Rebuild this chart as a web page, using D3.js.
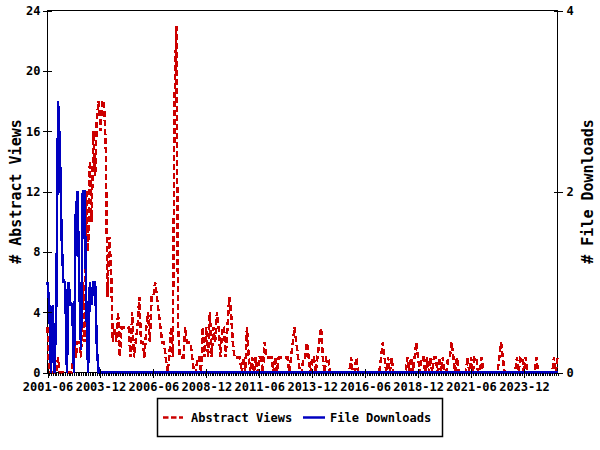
<!DOCTYPE html>
<html><head><meta charset="utf-8">
<script src="https://cdn.jsdelivr.net/npm/d3@7"></script>
<style>body{margin:0;background:#fff} svg{display:block}</style>
</head><body><svg id="c" width="600" height="450"></svg>
<script>
const startMonth = "2001-06";
const abstractViews = [
3,0,0,0,0,0,1,0,0,0, 0,0,0,0,0,2,1,2,2,1,
6,2,12,8,14,10,16,13,17,18, 16,18,18,15,5,9,7,2,3,2,
4,1,3,3,3,3,3,1,4,1, 2,3,5,2,2,1,3,4,2,5,
5,6,5,4,3,2,2,1,0,1, 3,1,18,23,3,1,1,1,3,2,
2,2,1,0,0,1,1,0,3,1, 3,1,4,1,3,2,4,3,1,3,
3,1,3,5,4,2,1,1,1,1, 0,1,0,3,1,0,1,0,1,0,
1,1,0,2,1,1,1,1,0,1, 0,1,1,1,1,1,1,0,1,2,
3,2,1,0,0,1,1,2,1,0, 1,1,0,1,2,3,1,0,1,1,
0,0,0,0,0,0,0,0,0,0, 0,0,1,0,0,1,0,0,0,0,
0,0,0,0,0,0,0,0,0,1, 2,1,0,1,0,1,0,0,0,0,
0,0,0,0,1,0,1,0,1,2, 1,0,1,1,0,1,0,1,0,1,
1,0,1,0,1,0,0,1,1,2, 1,0,1,0,0,0,0,0,1,0,
1,0,1,1,0,0,1,0,0,0, 0,0,0,0,0,0,1,2,1,0,
0,0,0,0,0,0,1,0,1,1, 0,1,0,0,0,0,0,1,0,0,
0,0,0,0,0,0,0,1,0,1
];
const fileDownloads = [
1,0.75,0,0.75,0,0.75,3,2.5,1.5,1, 1,0,1,0.75,0.75,0,1.75,2,1,0.25,
2,2,0.75,0,1,0.75,1,1,0.25,0
].concat(new Array(260).fill(0));
const xTickLabels = ["2001-06","2003-12","2006-06","2008-12","2011-06","2013-12","2016-06","2018-12","2021-06","2023-12"];
const leftTicks = [0,4,8,12,16,20,24];
const rightTicks = [0,2,4];
const seriesNames = ["Abstract Views","File Downloads"];
const colors = ["#cc0000","#0000c0"];

const svg = d3.select("#c");
const font = "'DejaVu Sans Mono', 'Liberation Mono', monospace";
const L = 47.5, R = 557.5, T = 10.5, B = 372.5;

const monthIndex = s => { const [y,m] = s.split("-").map(Number); const [y0,m0] = startMonth.split("-").map(Number); return (y-y0)*12 + (m-m0); };
const n = abstractViews.length;
const x = d3.scaleLinear().domain([0, n-1]).range([L, R]);
const yL = d3.scaleLinear().domain([0, 24]).range([B, T]);
const yR = d3.scaleLinear().domain([0, 4]).range([B, T]);

// frame
svg.append("rect").attr("x", L).attr("y", T).attr("width", R-L).attr("height", B-T)
  .attr("fill","none").attr("stroke","#000").attr("stroke-width",1).attr("shape-rendering","crispEdges");

// lines
const lineL = d3.line().x((d,i)=>x(i)).y(d=>yL(d));
const lineR = d3.line().x((d,i)=>x(i)).y(d=>yR(d));
svg.append("path").datum(abstractViews).attr("d", lineL).attr("fill","none")
  .attr("stroke", colors[0]).attr("stroke-width",2.5).attr("stroke-dasharray","6,3")
  .attr("shape-rendering","crispEdges");
svg.append("path").datum(fileDownloads).attr("d", lineR).attr("fill","none")
  .attr("stroke", colors[1]).attr("stroke-width",2.5).attr("shape-rendering","crispEdges");

// bottom axis minor ticks
const gMinor = svg.append("g").attr("transform",`translate(0,${B})`)
  .call(d3.axisBottom(x).tickValues(d3.range(0,n)).tickSize(3).tickFormat(""));
gMinor.select(".domain").remove();
gMinor.selectAll("line").attr("stroke","#000").attr("shape-rendering","crispEdges");

// bottom major ticks + labels
const gX = svg.append("g").attr("transform",`translate(0,${B})`)
  .call(d3.axisBottom(x).tickValues(xTickLabels.map(monthIndex)).tickSize(5).tickPadding(5)
    .tickFormat((d,i)=>xTickLabels[i]));
gX.select(".domain").remove();
gX.selectAll("line").attr("stroke","#000").attr("y1",-4).attr("shape-rendering","crispEdges");
gX.selectAll("text").attr("font-family",font).attr("font-size",12).attr("font-weight","bold").attr("fill","#000");

// left axis
const gL = svg.append("g").attr("transform",`translate(${L},0)`)
  .call(d3.axisLeft(yL).tickValues(leftTicks).tickSize(5).tickPadding(2).tickFormat(d3.format("d")));
gL.select(".domain").remove();
gL.selectAll("line").attr("stroke","#000").attr("x2",-5).attr("x1",4).attr("shape-rendering","crispEdges");
gL.selectAll("text").attr("font-family",font).attr("font-size",12).attr("font-weight","bold").attr("fill","#000");

// right axis
const gR = svg.append("g").attr("transform",`translate(${R},0)`)
  .call(d3.axisRight(yR).tickValues(rightTicks).tickSize(5).tickPadding(4).tickFormat(d3.format("d")));
gR.select(".domain").remove();
gR.selectAll("line").attr("stroke","#000").attr("x1",-4).attr("shape-rendering","crispEdges");
gR.selectAll("text").attr("font-family",font).attr("font-size",12).attr("font-weight","bold").attr("fill","#000");

// axis titles
svg.append("text").attr("transform",`translate(21,${(T+B)/2}) rotate(-90)`).attr("text-anchor","middle")
  .attr("font-family",font).attr("font-size",15).attr("font-weight","bold").text("# Abstract Views");
svg.append("text").attr("transform",`translate(593,${(T+B)/2}) rotate(-90)`).attr("text-anchor","middle")
  .attr("font-family",font).attr("font-size",15).attr("font-weight","bold").text("# File Downloads");

// legend
const lg = svg.append("g");
lg.append("rect").attr("x",157.5).attr("y",398.5).attr("width",285).attr("height",38)
  .attr("fill","#fff").attr("stroke","#000").attr("stroke-width",1.5);
lg.append("line").attr("x1",163).attr("x2",183).attr("y1",417.5).attr("y2",417.5)
  .attr("stroke",colors[0]).attr("stroke-width",2.5).attr("stroke-dasharray","5.5,2.5");
lg.append("text").attr("x",191).attr("y",422).attr("font-family",font).attr("font-size",12).attr("font-weight","bold").text(seriesNames[0]);
lg.append("line").attr("x1",303).attr("x2",325).attr("y1",417.5).attr("y2",417.5)
  .attr("stroke",colors[1]).attr("stroke-width",2.5);
lg.append("text").attr("x",330).attr("y",422).attr("font-family",font).attr("font-size",12).attr("font-weight","bold").text(seriesNames[1]);
</script></body></html>
